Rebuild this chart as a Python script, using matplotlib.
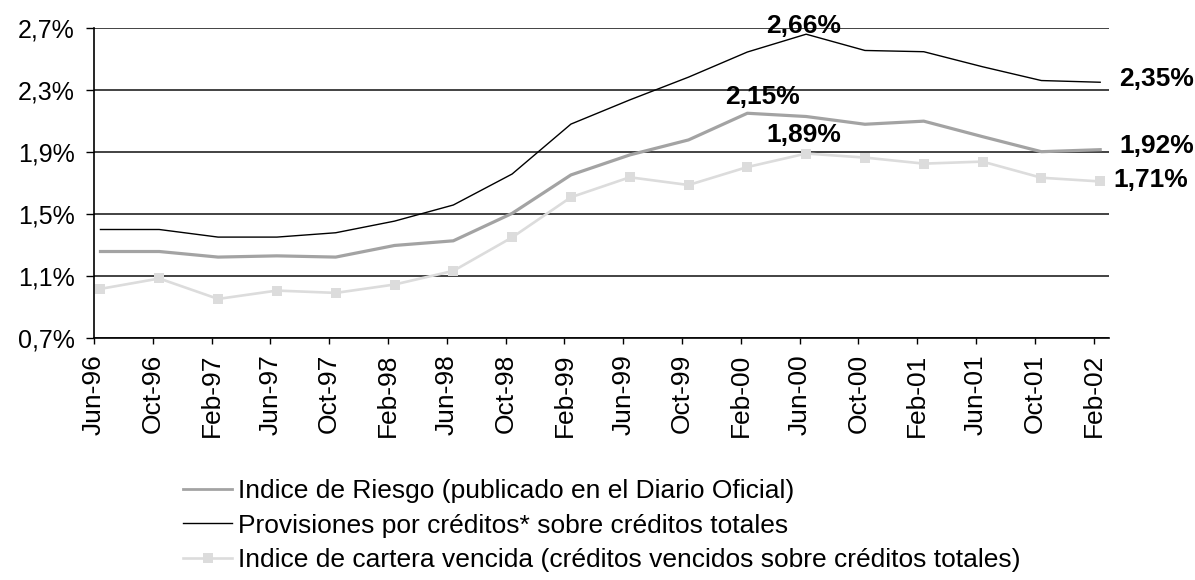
import matplotlib
matplotlib.use("Agg")
import matplotlib.pyplot as plt
import numpy as np

plt.rcParams['font.family'] = ['Liberation Sans', 'DejaVu Sans']

# ---- data ----
categories = ["Jun-96", "Oct-96", "Feb-97", "Jun-97", "Oct-97", "Feb-98", "Jun-98",
              "Oct-98", "Feb-99", "Jun-99", "Oct-99", "Feb-00", "Jun-00", "Oct-00",
              "Feb-01", "Jun-01", "Oct-01", "Feb-02"]

riesgo = [1.258, 1.258, 1.222, 1.230, 1.222, 1.297, 1.327, 1.504, 1.752, 1.881,
          1.978, 2.150, 2.129, 2.079, 2.099, 1.999, 1.902, 1.915]
provisiones = [1.400, 1.400, 1.351, 1.351, 1.379, 1.454, 1.558, 1.758, 2.080, 2.236,
               2.383, 2.545, 2.660, 2.555, 2.547, 2.450, 2.361, 2.350]
vencida = [1.017, 1.084, 0.952, 1.006, 0.991, 1.045, 1.133, 1.349, 1.608, 1.737,
           1.687, 1.803, 1.890, 1.864, 1.825, 1.838, 1.734, 1.710]

label_riesgo = "Indice de Riesgo (publicado en el Diario Oficial)"
label_prov = "Provisiones por créditos* sobre créditos totales"
label_venc = "Indice de cartera vencida (créditos vencidos sobre créditos totales)"

yticks = [0.7, 1.1, 1.5, 1.9, 2.3, 2.7]
ytick_labels = ["0,7%", "1,1%", "1,5%", "1,9%", "2,3%", "2,7%"]

# ---- figure ----
fig = plt.figure(figsize=(11.95, 5.8), dpi=100)
ax = fig.add_axes([94/1195, 1-338/580, (1109-94)/1195, (338-28)/580])

n = len(categories)
ticks_x = np.arange(n)
x = ticks_x + 0.11

l1, = ax.plot(x, riesgo, color='#a3a3a3', lw=2.3, label=label_riesgo, zorder=3)
l2, = ax.plot(x, provisiones, color='black', lw=1.0, label=label_prov, zorder=4)
l3, = ax.plot(x, vencida, color='#dcdcdc', lw=1.9, marker='s', markersize=7.5,
              markeredgewidth=0, markerfacecolor='#dcdcdc', label=label_venc, zorder=2)

ax.set_xlim(0, 17.26)
ax.set_ylim(0.7, 2.7)
ax.set_yticks(yticks)
ax.set_yticklabels(ytick_labels, fontsize=18)
ax.set_xticks(ticks_x)
ax.set_xticklabels(categories, rotation=90, fontsize=19)
ax.tick_params(axis='y', direction='out', length=6, width=1, pad=8)
ax.tick_params(axis='x', direction='out', length=4.5, width=1, pad=7)

ax.grid(axis='y', color='#222222', lw=1.2, zorder=1)
ax.set_axisbelow(True)
for s in ['top', 'right']:
    ax.spines[s].set_visible(False)
for s in ['left', 'bottom']:
    ax.spines[s].set_linewidth(1.2)
    ax.spines[s].set_color('black')

# ---- annotations ----
bold = dict(fontsize=19, fontweight='bold', color='black')
i_peak = 12
ax.annotate("2,66%", (x[i_peak], provisiones[i_peak]), xytext=(-1.5, 1.0),
            textcoords='offset points', ha='center', va='baseline', **bold)
i_r = 11
ax.annotate("2,15%", (x[i_r], riesgo[i_r]), xytext=(11, 7),
            textcoords='offset points', ha='center', va='baseline', **bold)
ax.annotate("1,89%", (x[i_peak], vencida[i_peak]), xytext=(-2, 8),
            textcoords='offset points', ha='center', va='baseline', **bold)
ax.annotate("2,35%", (x[-1], provisiones[-1]), xytext=(13.5, 2),
            textcoords='offset points', ha='left', va='center', annotation_clip=False, **bold)
ax.annotate("1,92%", (x[-1], riesgo[-1]), xytext=(13.5, 3),
            textcoords='offset points', ha='left', va='center', annotation_clip=False, **bold)
ax.annotate("1,71%", (x[-1], vencida[-1]), xytext=(9.5, 1),
            textcoords='offset points', ha='left', va='center', annotation_clip=False, **bold)

# ---- legend ----
leg = fig.legend(handles=[l1, l2, l3], loc='upper left',
                 bbox_to_anchor=(183/1195, 1-479/580), frameon=False,
                 fontsize=19, handlelength=1.86, handletextpad=0.23,
                 labelspacing=0.4, borderpad=0, borderaxespad=0)
for h in leg.legend_handles:
    if h.get_label() == label_venc:
        h.set_markersize(6.5)
    if h.get_label() == label_riesgo:
        h.set_linewidth(2.0)

fig.savefig("out.png", dpi=100)
